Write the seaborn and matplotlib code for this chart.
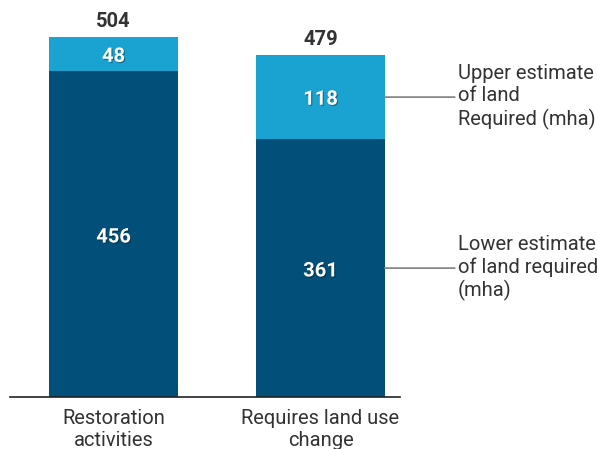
import matplotlib
matplotlib.use("Agg")
import matplotlib.pyplot as plt
import matplotlib.patheffects as pe
import seaborn as sns
import pandas as pd

# ========== DATA ==========
categories = ["Restoration\nactivities", "Requires land use\nchange"]
lower_est = [456, 361]
upper_est = [48, 118]
totals = [l + u for l, u in zip(lower_est, upper_est)]

DARK = "#02507a"
LIGHT = "#1aa2d0"
TXT = "#333333"

sns.set_theme(style="white")
plt.rcParams["font.family"] = ["Roboto", "DejaVu Sans"]

df = pd.DataFrame({"cat": categories, "lower": lower_est, "upper": upper_est, "total": totals})

fig = plt.figure(figsize=(5.97, 4.49), dpi=100)
ax = fig.add_axes([10 / 597, 52 / 449, 390 / 597, 397 / 449])

# stacked bars: full height in light blue, lower part in dark blue on top
sns.barplot(data=df, x="cat", y="total", color=LIGHT, width=0.623, saturation=1,
            linewidth=0, edgecolor="none", ax=ax)
sns.barplot(data=df, x="cat", y="lower", color=DARK, width=0.623, saturation=1,
            linewidth=0, edgecolor="none", ax=ax)

ax.set_xlim(-0.5, 1.384)
ax.set_ylim(0, 556)
ax.set_xlabel("")
ax.set_ylabel("")
ax.set_yticks([])
for s in ["top", "right", "left"]:
    ax.spines[s].set_visible(False)
ax.spines["bottom"].set_color("#222222")
ax.spines["bottom"].set_linewidth(1.2)
ax.tick_params(axis="x", length=0, pad=9, labelsize=14.5, labelcolor=TXT)

shadow = [pe.withSimplePatchShadow(offset=(0.8, -0.8), shadow_rgbFace="#000000", alpha=0.35)]
for i in range(len(categories)):
    ax.text(i, lower_est[i] / 2 - 4, str(lower_est[i]), ha="center", va="center",
            color="white", fontsize=14.5, fontweight="bold", path_effects=shadow)
    ax.text(i, lower_est[i] + upper_est[i] / 2 - 3, str(upper_est[i]), ha="center", va="center",
            color="white", fontsize=14.5, fontweight="bold", path_effects=shadow)
    ax.text(i, totals[i] + 8, str(totals[i]), ha="center", va="bottom",
            color=TXT, fontsize=14.5, fontweight="bold")

# side annotations for the second bar
x_edge = 1 + 0.623 / 2
y_up = lower_est[1] + upper_est[1] / 2
y_lo = lower_est[1] / 2
for y, label in [(y_up, "Upper estimate\nof land\nRequired (mha)"),
                 (y_lo, "Lower estimate\nof land required\n(mha)")]:
    ax.annotate(label, xy=(x_edge, y), xytext=(458 / 597, y), textcoords=("figure fraction", "data"),
                ha="left", va="center", fontsize=14.5, color=TXT, linespacing=1.22,
                arrowprops=dict(arrowstyle="-", color="#888888", lw=1.3, shrinkA=0, shrinkB=0,
                                relpos=(0, 0.5)),
                annotation_clip=False)

fig.savefig("out.png", dpi=100)
